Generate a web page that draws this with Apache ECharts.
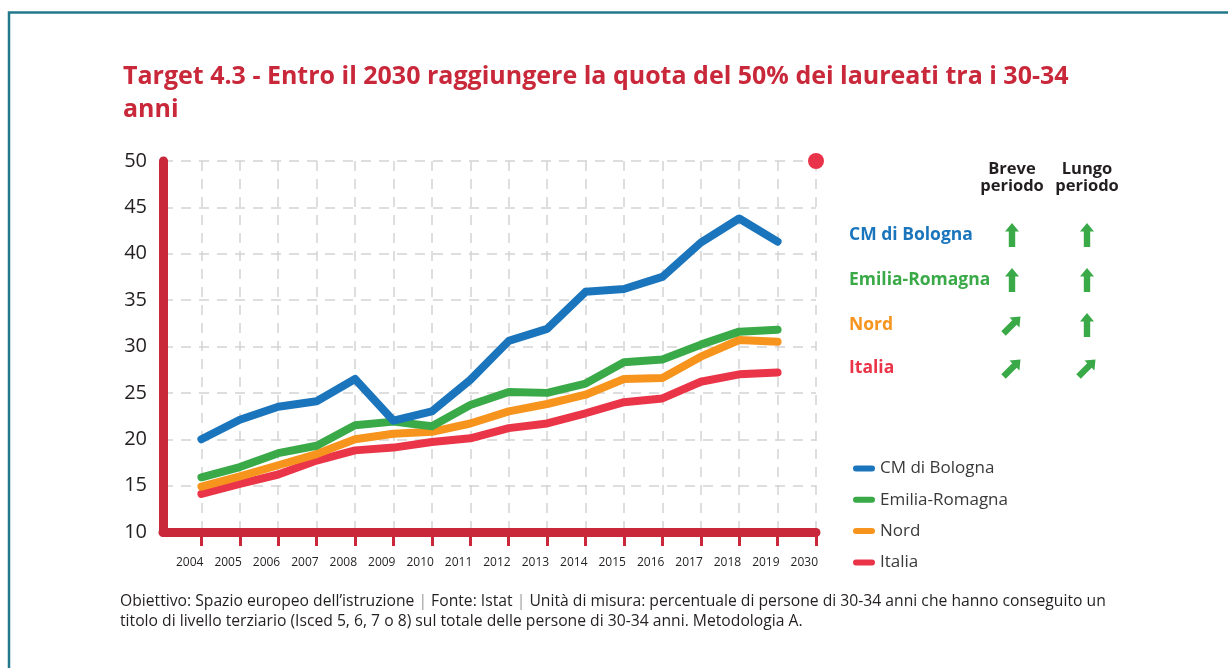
<!DOCTYPE html>
<html>
<head>
<meta charset="utf-8">
<script src="https://cdn.jsdelivr.net/npm/echarts@6/dist/echarts.min.js"></script>
<style>
  html, body { margin: 0; padding: 0; background: #fff; }
  #chart { width: 1228px; height: 668px; }
</style>
</head>
<body>
<div id="chart"></div>
<script>
// dati
var years = ['2004','2005','2006','2007','2008','2009','2010','2011','2012','2013','2014','2015','2016','2017','2018','2019','2030'];
var bologna = [20.0, 22.1, 23.5, 24.1, 26.5, 22.0, 23.0, 26.4, 30.6, 31.9, 35.9, 36.2, 37.5, 41.2, 43.8, 41.3, null];
var emilia  = [15.9, 17.0, 18.5, 19.3, 21.5, 21.9, 21.4, 23.7, 25.1, 25.0, 26.0, 28.3, 28.6, 30.2, 31.6, 31.8, null];
var nord    = [14.9, 16.0, 17.2, 18.4, 20.0, 20.6, 20.8, 21.7, 23.0, 23.8, 24.8, 26.5, 26.6, 28.9, 30.7, 30.5, null];
var italia  = [14.1, 15.2, 16.2, 17.7, 18.8, 19.1, 19.7, 20.1, 21.2, 21.7, 22.8, 24.0, 24.4, 26.2, 27.0, 27.2, null];
var targetYear = '2030';
var targetValue = 50;
var yTicks = [10, 15, 20, 25, 30, 35, 40, 45, 50];

var seriesNames = ['CM di Bologna', 'Emilia-Romagna', 'Nord', 'Italia'];
var seriesColors = ['#1b75bc', '#3aaa48', '#f7941d', '#ea3548'];
// tendenze: 'up' = freccia verticale, 'diag' = freccia obliqua
var breveTrend = ['up', 'up', 'diag', 'diag'];
var lungoTrend = ['up', 'up', 'up', 'diag'];

var chart = echarts.init(document.getElementById('chart'));

var axisRed = '#c8283a';
var font = 'Open Sans';
// categoria vuota iniziale: l'asse y sta una colonna prima del 2004
var cats = [''].concat(years);
function pad(arr) { return [null].concat(arr); }

var values = [bologna, emilia, nord, italia];
var lineSeries = [];
// disegno Italia per prima, Bologna sopra
for (var i = values.length - 1; i >= 0; i--) {
    lineSeries.push({
        name: seriesNames[i],
        type: 'line',
        data: pad(values[i]),
        showSymbol: false,
        symbol: 'none',
        connectNulls: false,
        lineStyle: { width: 8, color: seriesColors[i], cap: 'round', join: 'round' },
        itemStyle: { color: seriesColors[i] },
        z: 5
    });
}
var targetData = cats.map(function(c) { return c === targetYear ? targetValue : null; });
lineSeries.push({
    name: 'Obiettivo',
    type: 'scatter',
    data: targetData,
    symbolSize: 16,
    itemStyle: { color: '#e8334a', opacity: 1 },
    z: 6
});

var arrowPts = [[0, -12], [7, -3.5], [3.2, -3.5], [3.2, 12], [-3.2, 12], [-3.2, -3.5], [-7, -3.5]];
var rowY = [235, 280, 325, 368];
var graphics = [
    // bordo (solo sinistra e sopra)
    { type: 'polyline', shape: { points: [[9, 700], [9, 12.5], [1240, 12.5]] },
      style: { stroke: '#23798b', lineWidth: 2.5, fill: null } },
    { type: 'text', x: 1012, y: 161,
      style: { text: 'Breve\nperiodo', font: 'bold 16.5px "' + font + '"', fill: '#231f20', align: 'center', lineHeight: 17 } },
    { type: 'text', x: 1087, y: 161,
      style: { text: 'Lungo\nperiodo', font: 'bold 16.5px "' + font + '"', fill: '#231f20', align: 'center', lineHeight: 17 } },
    { type: 'text', x: 120, y: 592,
      style: {
          text: 'Obiettivo: Spazio europeo dell’istruzione {s||} Fonte: Istat {s||} Unità di misura: percentuale di persone di 30-34 anni che hanno conseguito un\n' +
                'titolo di livello terziario (Isced 5, 6, 7 o 8) sul totale delle persone di 30-34 anni. Metodologia A.',
          font: '15.7px "' + font + '"', fill: '#231f20', lineHeight: 20,
          rich: { s: { fill: '#9a9a9a', font: '15.7px "' + font + '"' } }
      } }
];
for (var r = 0; r < seriesNames.length; r++) {
    graphics.push({ type: 'text', x: 849, y: rowY[r],
        style: { text: seriesNames[r], font: 'bold 17.5px "' + font + '"', fill: seriesColors[r], verticalAlign: 'middle' } });
    [[1012, breveTrend[r]], [1087, lungoTrend[r]]].forEach(function(a) {
        graphics.push({ type: 'polygon', x: a[0], y: rowY[r],
            rotation: a[1] === 'diag' ? -Math.PI / 4 : 0,
            shape: { points: arrowPts },
            style: { fill: '#3aaa48' } });
    });
}

var option = {
    animation: false,
    textStyle: { fontFamily: font },
    title: {
        text: 'Target 4.3 - Entro il 2030 raggiungere la quota del 50% dei laureati tra i 30-34\nanni',
        left: 118, top: 55,
        textStyle: { color: '#c8283a', fontSize: 25, fontWeight: 'bold', lineHeight: 33, fontFamily: font }
    },
    legend: {
        data: seriesNames,
        orient: 'vertical',
        left: 848, top: 455,
        itemWidth: 22, itemHeight: 6,
        itemGap: 14.3,
        icon: 'path://M3,0 L19,0 A3,3 0 0 1 19,6 L3,6 A3,3 0 0 1 3,0 Z',
        textStyle: { fontSize: 17, color: '#3a3a3a', lineHeight: 17, padding: [0, 0, 0, 0] }
    },
    grid: { left: 163, top: 161, width: 653, height: 371, containLabel: false },
    xAxis: {
        type: 'category',
        data: cats,
        boundaryGap: false,
        axisLine: { onZero: false, lineStyle: { color: axisRed, width: 9, cap: 'round' } },
        axisTick: { show: true, length: 14, interval: function(i) { return i > 0; },
            lineStyle: { color: axisRed, width: 3 } },
        axisLabel: { interval: 0, align: 'right', margin: 25, fontSize: 12, color: '#231f20',
            padding: [0, -2, 0, 0] },
        splitLine: { show: true, interval: function(i) { return i > 0; },
            lineStyle: { color: '#d4d4d4', width: 1.5, type: [10, 8] } },
        z: 3
    },
    yAxis: {
        type: 'value',
        min: yTicks[0], max: yTicks[yTicks.length - 1], interval: 5,
        axisLine: { show: true, lineStyle: { color: axisRed, width: 9, cap: 'round' } },
        axisTick: { show: false },
        axisLabel: { fontSize: 20, color: '#231f20', margin: 16 },
        splitLine: { show: true, lineStyle: { color: '#d4d4d4', width: 1.5, type: [10, 8] } },
        z: 3
    },
    series: lineSeries,
    graphic: graphics
};

chart.setOption(option);
</script>
</body>
</html>
